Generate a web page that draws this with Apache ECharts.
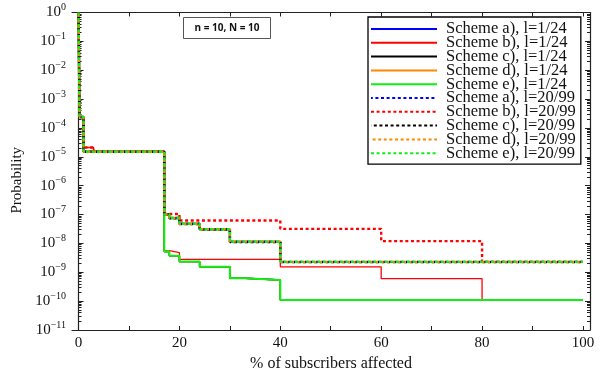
<!DOCTYPE html>
<html>
<head>
<meta charset="utf-8">
<script src="https://cdn.jsdelivr.net/npm/echarts@6/dist/echarts.min.js"></script>
<style>
html,body{margin:0;padding:0;background:#fff;}
#chart{width:606px;height:377px;}
</style>
</head>
<body>
<div id="chart"></div>
<script>
// ---- data ----
const schemeNames = ['a)', 'b)', 'c)', 'd)', 'e)'];
const schemeColors = ['#0000ff', '#ff0000', '#000000', '#ff8800', '#11ee11'];

// l = 1/24 (solid)
const xSolidA = [0, 0.2, 1, 17, 18, 20, 24, 30, 33, 40, 100];
const ySolidA = [1, 2.4e-4, 1.5e-5, 5.2e-9, 3.7e-9, 2.35e-9, 1.55e-9, 6.2e-10, 5.4e-10, 1.1e-10, 1.1e-10];
const xSolidB = [0, 0.2, 1, 3, 17, 18, 20, 40, 60, 80, 100];
const ySolidB = [1, 2.4e-4, 2.1e-5, 1.5e-5, 5.6e-9, 4.8e-9, 2.8e-9, 1.55e-9, 6.0e-10, 1.1e-10, 1.1e-10];
const xSolidC = [0, 0.2, 1, 17, 18, 20, 24, 30, 33, 40, 100];
const ySolidC = [1, 2.4e-4, 1.5e-5, 5.2e-9, 3.7e-9, 2.35e-9, 1.55e-9, 6.2e-10, 5.4e-10, 1.1e-10, 1.1e-10];
const xSolidD = [0, 0.2, 1, 17, 18, 20, 24, 30, 33, 40, 100];
const ySolidD = [1, 2.4e-4, 1.5e-5, 5.4e-9, 3.7e-9, 2.35e-9, 1.55e-9, 6.2e-10, 5.4e-10, 1.1e-10, 1.1e-10];
const xSolidE = [0, 0.2, 1, 17, 18, 20, 24, 30, 33, 40, 100];
const ySolidE = [1, 2.4e-4, 1.5e-5, 5.2e-9, 3.7e-9, 2.35e-9, 1.55e-9, 6.2e-10, 5.4e-10, 1.1e-10, 1.1e-10];

// l = 20/99 (dashed)
const xDashA = [0, 0.2, 1, 17, 18, 20, 24, 30, 40, 100];
const yDashA = [1, 2.4e-4, 1.5e-5, 1.0e-7, 7.6e-8, 4.8e-8, 3.1e-8, 1.15e-8, 2.3e-9, 2.3e-9];
const xDashB = [0, 0.2, 1, 3, 17, 20, 40, 60, 80, 100];
const yDashB = [1, 2.4e-4, 2.1e-5, 1.5e-5, 1.05e-7, 6.2e-8, 3.2e-8, 1.2e-8, 2.3e-9, 2.3e-9];
const xDashC = [0, 0.2, 1, 17, 18, 20, 24, 30, 40, 100];
const yDashC = [1, 2.4e-4, 1.5e-5, 1.0e-7, 7.4e-8, 4.7e-8, 3.05e-8, 1.12e-8, 2.25e-9, 2.25e-9];
const xDashD = [0, 0.2, 1, 17, 18, 20, 24, 30, 40, 100];
const yDashD = [1, 2.4e-4, 1.5e-5, 1.0e-7, 7.6e-8, 4.8e-8, 3.1e-8, 1.15e-8, 2.3e-9, 2.3e-9];
const xDashE = [0, 0.2, 1, 17, 18, 20, 24, 30, 40, 100];
const yDashE = [1, 2.4e-4, 1.5e-5, 1.0e-7, 7.6e-8, 4.8e-8, 3.1e-8, 1.15e-8, 2.3e-9, 2.3e-9];

// ticks
const yExponents = [-11, -10, -9, -8, -7, -6, -5, -4, -3, -2, -1, 0];
const xTickValues = [0, 20, 40, 60, 80, 100];
const xMinorTickValues = [10, 30, 50, 70, 90];
const minorMultipliers = [2, 3, 4, 5, 6, 7, 8, 9];
const annotationText = 'n = 10, N = 10';
const xName = '% of subscribers affected';
const yName = 'Probability';

// ---- build ----
const solidX = [xSolidA, xSolidB, xSolidC, xSolidD, xSolidE];
const solidY = [ySolidA, ySolidB, ySolidC, ySolidD, ySolidE];
const dashX = [xDashA, xDashB, xDashC, xDashD, xDashE];
const dashY = [yDashA, yDashB, yDashC, yDashD, yDashE];
const dashOffsets = [1.2, 0, 2.8, 4, 0];

function pts(xs, ys) { return xs.map((x, i) => [x, ys[i]]); }

const series = [];
schemeNames.forEach((s, i) => {
  series.push({
    name: 'Scheme ' + s + ', l=1/24',
    type: 'line', step: 'end', symbol: 'none', silent: true, animation: false,
    data: pts(solidX[i], solidY[i]),
    lineStyle: { color: schemeColors[i], width: i === 4 ? 2 : 1.3, type: 'solid' },
    itemStyle: { color: schemeColors[i] }
  });
});
schemeNames.forEach((s, i) => {
  series.push({
    name: 'Scheme ' + s + ', l=20/99',
    type: 'line', step: 'end', symbol: 'none', silent: true, animation: false,
    data: pts(dashX[i], dashY[i]),
    lineStyle: { color: schemeColors[i], width: 2.4, type: [3, 2.6], dashOffset: dashOffsets[i] },
    itemStyle: { color: schemeColors[i] }
  });
});

const majorY = yExponents.map(e => Math.pow(10, e));
const minorY = [];
yExponents.slice(0, -1).forEach(e => minorMultipliers.forEach(m => minorY.push(m * Math.pow(10, e))));

const SERIF = '"Liberation Serif", "DejaVu Serif", serif';
const axisColor = '#222';
const yMin = 1e-11, yMax = 1, xMin = -1.3, xMax = 101.4;

function yAx(opts) {
  return Object.assign({
    type: 'log', logBase: 10, min: yMin, max: yMax,
    splitLine: { show: false },
    axisLine: { show: true, lineStyle: { color: axisColor, width: 1.2 } },
    axisLabel: { show: false },
    axisTick: { show: false }
  }, opts);
}
function xAx(opts) {
  return Object.assign({
    type: 'value', min: xMin, max: xMax,
    splitLine: { show: false },
    axisLine: { show: true, onZero: false, lineStyle: { color: axisColor, width: 1.2 } },
    axisLabel: { show: false },
    axisTick: { show: false }
  }, opts);
}

const option = {
  backgroundColor: '#fff',
  animation: false,
  grid: { left: 72, right: 16, top: 12.5, bottom: 44, containLabel: false },
  xAxis: [
    xAx({
      position: 'bottom',
      name: xName, nameLocation: 'middle', nameGap: 26,
      nameTextStyle: { fontFamily: SERIF, fontSize: 16, color: '#111' },
      axisLabel: { show: true, customValues: xTickValues, fontFamily: SERIF, fontSize: 15, color: '#111', margin: 6 },
      axisTick: { show: true, inside: true, length: 4, customValues: xTickValues.concat(xMinorTickValues), lineStyle: { color: axisColor } }
    }),
    xAx({
      position: 'top',
      axisTick: { show: true, inside: true, length: 4, customValues: xTickValues.concat(xMinorTickValues), lineStyle: { color: axisColor } }
    })
  ],
  yAxis: [
    yAx({
      position: 'left',
      name: yName, nameLocation: 'middle', nameGap: 42, nameRotate: 90,
      nameTextStyle: { fontFamily: SERIF, fontSize: 15, color: '#111', padding: [0, 18, 0, 0] },
      axisLabel: {
        show: true, customValues: majorY, margin: 6,
        formatter: function (v) {
          const e = Math.round(Math.log10(v));
          return '{b|10}{e|' + (e < 0 ? '\u2212' + (-e) : e) + '}';
        },
        rich: {
          b: { fontFamily: SERIF, fontSize: 15, color: '#111', lineHeight: 18 },
          e: { fontFamily: SERIF, fontSize: 10, color: '#111', lineHeight: 10, padding: [0, 0, 10, 0] }
        }
      },
      axisTick: { show: true, inside: true, length: 5, customValues: majorY, lineStyle: { color: axisColor } }
    }),
    yAx({
      position: 'left', axisLine: { show: false },
      axisTick: { show: true, inside: true, length: 3, customValues: minorY, lineStyle: { color: axisColor } }
    }),
    yAx({
      position: 'right',
      axisTick: { show: true, inside: true, length: 5, customValues: majorY, lineStyle: { color: axisColor } }
    }),
    yAx({
      position: 'right', axisLine: { show: false },
      axisTick: { show: true, inside: true, length: 3, customValues: minorY, lineStyle: { color: axisColor } }
    })
  ],
  legend: {
    orient: 'vertical', left: 368, top: 17,
    selectedMode: false,
    backgroundColor: '#fff',
    borderColor: '#000', borderWidth: 1.3,
    padding: [3.5, 5, 2.5, 2],
    itemWidth: 66, itemHeight: 14, itemGap: -3.2,
    itemStyle: { opacity: 0 },
    textStyle: { fontFamily: SERIF, fontSize: 16.5, color: '#111', lineHeight: 14, padding: [0, 0, 0, 4] },
    data: series.map(s => s.name)
  },
  graphic: [
    {
      type: 'group', left: 183, top: 17,
      children: [
        { type: 'rect', shape: { x: 0, y: 0, width: 87, height: 21 }, style: { fill: '#fff', stroke: '#555', lineWidth: 1 } },
        { type: 'text', x: 43.5, y: 10.5, style: { text: annotationText, fontFamily: '"Open Sans", "Liberation Sans", sans-serif', fontWeight: 'bold', fontSize: 10, fill: '#111', align: 'center', verticalAlign: 'middle' } }
      ]
    }
  ],
  series: series
};

const chart = echarts.init(document.getElementById('chart'), null, { renderer: 'canvas' });
chart.setOption(option);
</script>
</body>
</html>
